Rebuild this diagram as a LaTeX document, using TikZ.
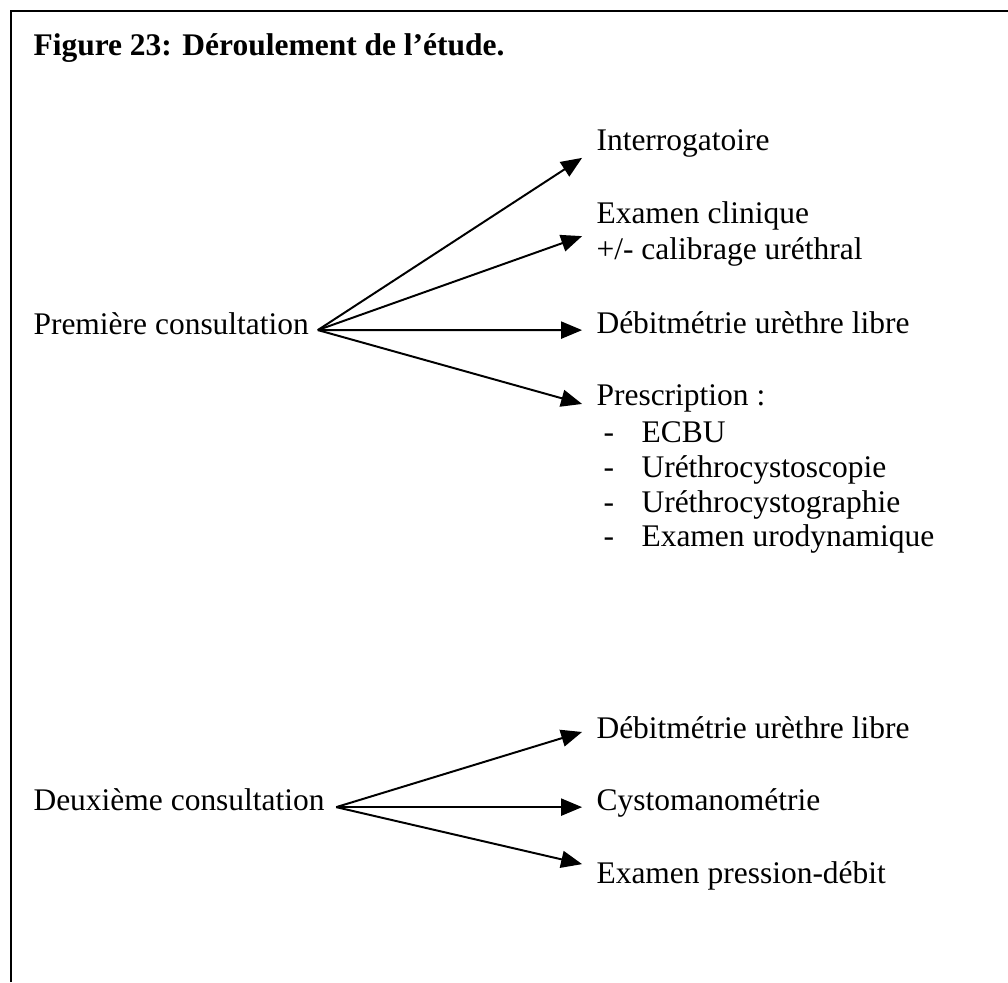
\documentclass[tikz,border=0pt]{standalone}
\usepackage{fontspec}
\setmainfont{Liberation Serif}
\usetikzlibrary{arrows.meta}

\begin{document}
\begin{tikzpicture}[x=0.013393cm, y=-0.013393cm,
		lbl/.style={anchor=base west, inner sep=0pt, font=\fontsize{12pt}{14pt}\selectfont},
		arr/.style={line width=0.75pt, -{Triangle[length=8pt, width=6.5pt]}}]
		
		\useasboundingbox (0,0) rectangle (1008,982);
		
		% Frame
		\draw[line width=0.8pt] (11,982) -- (11,11) -- (1008,11);
		
		% Title
		\node[lbl, font=\fontsize{12pt}{14pt}\selectfont\bfseries] (title) at (33,55) {Figure 23: Déroulement de l’étude.};
		
		% First consultation
		\node[lbl] (pc1) at (33,334) {Première consultation};
		\coordinate (o1) at ([xshift=3.2pt, yshift=1.5pt]pc1.base east);
		\node[lbl] (int) at (596,150) {Interrogatoire};
		\node[lbl] (exa) at (596,223) {Examen clinique};
		\node[lbl] (cal) at (596,259) {+/- calibrage uréthral};
		\node[lbl] (deb1) at (596,333) {Débitmétrie urèthre libre};
		\node[lbl] (pre) at (596,405) {Prescription :};
		\foreach \txt/\yy [count=\i] in {ECBU/442, Uréthrocystoscopie/477, Uréthrocystographie/512, Examen urodynamique/546} {
			\node[lbl] (dash\i) at (603,\yy) {-};
			\node[lbl] (li\i) at (641,\yy) {\txt};
		}
		
		\draw[arr] (o1) -- ([xshift=-5.3pt, yshift=-3pt]int.base west);
		\draw[arr] (o1) -- ([xshift=-5.3pt, yshift=-5pt]exa.base west);
		\draw[arr] (o1) -- ([xshift=-5.3pt, yshift=1.1pt]deb1.base west);
		\draw[arr] (o1) -- ([xshift=-5.3pt, yshift=0.4pt]pre.base west);
		
		% Second consultation
		\node[lbl] (pc2) at (33,810) {Deuxième consultation};
		\coordinate (o2) at ([xshift=4.2pt, yshift=1.1pt]pc2.base east);
		\node[lbl] (deb2) at (596,738) {Débitmétrie urèthre libre};
		\node[lbl] (cys) at (596,810) {Cystomanométrie};
		\node[lbl] (epd) at (596,883) {Examen pression-débit};
		
		\draw[arr] (o2) -- ([xshift=-5.3pt, yshift=2.3pt]deb2.base west);
		\draw[arr] (o2) -- ([xshift=-5.3pt, yshift=1.1pt]cys.base west);
		\draw[arr] (o2) -- ([xshift=-5.3pt, yshift=7.2pt]epd.base west);
		
	\end{tikzpicture}
\end{document}
